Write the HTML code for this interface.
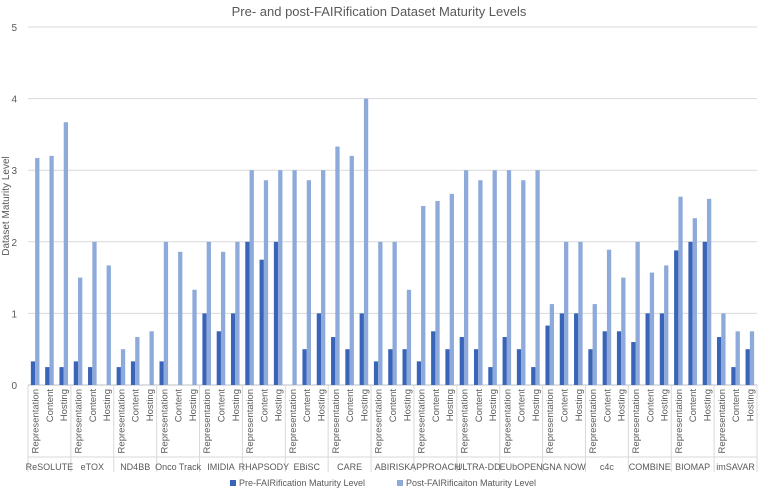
<!DOCTYPE html>
<html><head><meta charset="utf-8">
<style>
body{margin:0;background:#fff;}
svg{display:block;font-family:"Liberation Sans",sans-serif;}
</style></head>
<body>
<svg id="chart" width="759" height="490">
<text x="379" y="16" text-anchor="middle" font-size="13" fill="#595959">Pre- and post-FAIRification Dataset Maturity Levels</text>
<text transform="translate(9,206) rotate(-90)" text-anchor="middle" font-size="10" fill="#595959">Dataset Maturity Level</text>
<g id="grid"></g><g id="bars"></g><g id="xaxis"></g>
<g>
<rect x="230" y="480" width="6" height="6" fill="#3a64b8"></rect>
<text x="239" y="486" font-size="9" fill="#595959">Pre-FAIRification Maturity Level</text>
<rect x="397" y="480" width="6" height="6" fill="#8eaadb"></rect>
<text x="406" y="486" font-size="9" fill="#595959">Post-FAIRificaiton Maturity Level</text>
</g>
</svg>
<script>
const groups=["ReSOLUTE","eTOX","ND4BB","Onco Track","IMIDIA","RHAPSODY","EBiSC","CARE","ABIRISK","APPROACH","ULTRA-DD","EUbOPEN","GNA NOW","c4c","COMBINE","BIOMAP","imSAVAR"];
const subcats=["Representation","Content","Hosting"];
const preValues=[.33,.25,.25, .33,.25,0, .25,.33,0, .33,0,0, 1,.75,1, 2,1.75,2, 0,.5,1, .67,.5,1, .33,.5,.5, .33,.75,.5, .67,.5,.25, .67,.5,.25, .83,1,1, .5,.75,.75, .6,1,1, 1.88,2,2, .67,.25,.5];
const postValues=[3.17,3.2,3.67, 1.5,2,1.67, .5,.67,.75, 2,1.86,1.33, 2,1.86,2, 3,2.86,3, 3,2.86,3, 3.33,3.2,4, 2,2,1.33, 2.5,2.57,2.67, 3,2.86,3, 3,2.86,3, 1.13,2,2, 1.13,1.89,1.5, 2,1.57,1.67, 2.63,2.33,2.6, 1,.75,.75];
const yTicks=[0,1,2,3,4,5];
const NS="http://www.w3.org/2000/svg";
const L=28,R=757,Y0=385,Y5=27;
const y=v=>Y0-(Y0-Y5)*v/5;
const nCat=groups.length*subcats.length;
const cw=(R-L)/nCat;
const x=i=>L+i*cw;
function mk(t,a,p){const e=document.createElementNS(NS,t);for(const k in a)e.setAttribute(k,a[k]);p.appendChild(e);return e;}
const grid=document.getElementById('grid');
yTicks.forEach(t=>{
 const ln=mk('line',{x1:L,x2:R,y1:y(t),y2:y(t),stroke:t===0?'#bfbfbf':'#d9d9d9','stroke-width':1},grid);
 
 
 const tx=mk('text',{x:17,y:y(t)+4,'text-anchor':'end','font-size':10,fill:'#595959'},grid);
 tx.textContent=t;
 
 
});
const bars=document.getElementById('bars');
const bw=cw*0.3;
for(let i=0;i<nCat;i++){
 const c=x(i)+cw/2;
 const b1=mk('rect',{x:c-bw,y:y(preValues[i]),width:bw,height:Y0-y(preValues[i]),fill:'#3a64b8'},bars);
 
 
 const b2=mk('rect',{x:c,y:y(postValues[i]),width:bw,height:Y0-y(postValues[i]),fill:'#8eaadb'},bars);
 
 
}
const xa=document.getElementById('xaxis');
for(let g=0;g<=groups.length;g++){
 const gx=x(g*3);
 const ln=mk('line',{x1:gx,x2:gx,y1:Y0,y2:472,stroke:'#d9d9d9','stroke-width':1},xa);
 
 
}
mk('line',{x1:L,x2:R,y1:457,y2:457,stroke:'#d9d9d9','stroke-width':1},xa);
for(let i=0;i<nCat;i++){
 const cx=x(i)+cw/2+3.5;
 const t=mk('text',{transform:`translate(${cx},389) rotate(-90)`,'text-anchor':'end','font-size':9.5,fill:'#595959'},xa);
 t.textContent=subcats[i%3];
 
 
}
groups.forEach((g,gi)=>{
 const t=mk('text',{x:x(gi*3)+cw*1.5,y:470,'text-anchor':'middle','font-size':9,fill:'#595959'},xa);
 t.textContent=g;
 
 
});
</script>
</body></html>
